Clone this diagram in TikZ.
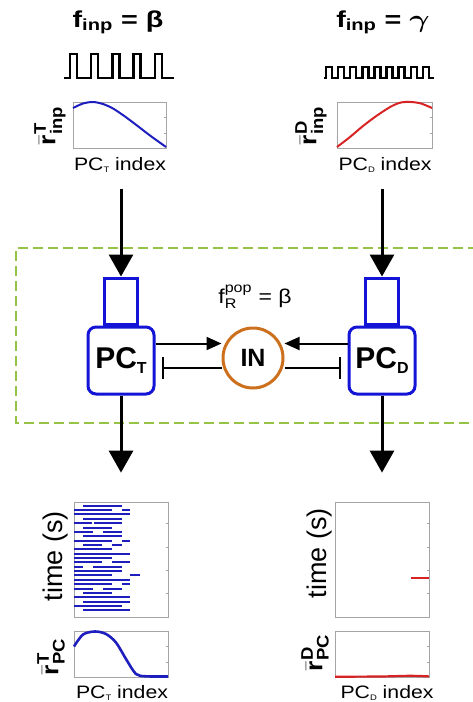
\documentclass[tikz,border=0pt]{standalone}
\usepackage{amsmath}
\usepackage{fontspec}
\setmainfont{Liberation Sans}
\usepackage{xcolor}
\usetikzlibrary{arrows.meta,positioning}
\definecolor{pcblue}{RGB}{20,20,215}
\definecolor{curveblue}{RGB}{30,30,190}
\definecolor{curvered}{RGB}{215,35,35}
\definecolor{inorange}{RGB}{204,112,30}
\definecolor{boxgreen}{RGB}{150,195,70}
\definecolor{axisgray}{RGB}{165,165,165}
\newcommand{\lowsub}[1]{\raisebox{-2.5pt}{\fontsize{8}{8}\selectfont #1}}
\newcommand{\pcsub}[1]{\raisebox{-5pt}{\fontsize{16}{16}\selectfont #1}}

\begin{document}
\begin{tikzpicture}[x=1pt,y=-1pt,
  title/.style={anchor=base,inner sep=0pt,xscale=1.25,transform shape,font=\fontsize{23}{26}\selectfont\bfseries},
  idx/.style={anchor=base,inner sep=0pt,xscale=1.18,transform shape,font=\fontsize{18}{18}\selectfont},
  rlab/.style={inner sep=0pt,rotate=90,xscale=1.1,transform shape,font=\fontsize{24}{24}\selectfont},
  timelab/.style={inner sep=0pt,rotate=90,font=\fontsize{27}{27}\selectfont},
  plotbox/.style={draw=axisgray,line width=0.8pt,inner sep=0pt},
  tick/.style={draw=axisgray,line width=0.6pt},
  wave/.style={line width=2.4pt,line join=miter},
  pcbox/.style={draw=pcblue,line width=3pt,rounded corners=8pt,minimum width=66pt,minimum height=67pt,inner sep=0pt,font=\fontsize{30}{30}\selectfont\bfseries},
  dend/.style={draw=pcblue,line width=3pt,minimum width=33pt,minimum height=46pt,inner sep=0pt},
  incell/.style={circle,draw=inorange,line width=3pt,minimum size=60pt,inner sep=0pt,font=\fontsize{25}{25}\selectfont\bfseries},
  feed/.style={line width=3pt,-{Triangle[width=24pt,length=22pt]}},
  exc/.style={line width=2pt,-{Triangle[width=13pt,length=15pt]}},
  inh/.style={line width=2pt,-{Bar[width=22pt]}},
  spike/.style={line width=2pt,curveblue}]
  \useasboundingbox (0,0) rectangle (472,702);

  % input frequencies
  \node[title] (ttlT) at (118,27) {f$_{\textbf{inp}}$ = β};
  \node[title] (ttlD) at (383,27) {f$_{\textbf{inp}}$ = $\boldsymbol{\gamma}$};
  \draw[wave] (64,78) \foreach \i in {0,...,4} { -- ({70+21.2*\i},78) -- ++(0,-24) -- ++(7,0) -- ++(0,24) } -- (174,78);
  \draw[wave] (324,78) \foreach \i in {0,...,8} { -- ({326+12.1*\i},78) -- ++(0,-11) -- ++(6,0) -- ++(0,11) } -- (434,78);

  % input profiles
  \node[plotbox,minimum width=93pt,minimum height=46pt] (rinT) at (119.5,125) {};
  \node[plotbox,minimum width=95pt,minimum height=46pt] (rinD) at (384.5,125) {};
  \foreach \ty in {117,133} {
    \draw[tick] (164,\ty) -- (166,\ty);
    \draw[tick] (430,\ty) -- (432,\ty);
  }
  \draw[line width=2pt,curveblue] plot[smooth] coordinates {(73,108) (83,103.5) (93,102) (103,104) (113,108.5) (125,116.5) (137,125.5) (150,135.5) (166,147)};
  \draw[line width=2pt,curvered] plot[smooth] coordinates {(337,147) (350,137) (363,126) (377,115.5) (391,106.5) (401,102.5) (411,102) (421,103.5) (432,108)};
  \node[rlab] (labinT) at (50,126) {$\bar{\textbf{r}}^{\textbf{T}}_{\textbf{inp}}$};
  \node[rlab] (labinD) at (311,126) {$\bar{\textbf{r}}^{\textbf{D}}_{\textbf{inp}}$};
  \node[idx] (idxinT) at (120,170) {PC\lowsub{T} index};
  \node[idx] (idxinD) at (385,170) {PC\lowsub{D} index};
  \coordinate (srcT) at (121,189);
  \coordinate (srcD) at (382,189);

  % network
  \draw[boxgreen,line width=2.2pt,dash pattern=on 10pt off 5pt] (478,248) -- (16,248) -- (16,423) -- (478,423);
  \node[pcbox] (pcT) at (121,360.5) {PC\pcsub{T}};
  \node[pcbox] (pcD) at (382,360.5) {PC\pcsub{D}};
  \node[dend,above=0pt of pcT] (dendT) {};
  \node[dend,above=0pt of pcD] (dendD) {};
  \node[incell] (in) at (253,358) {IN};
  \node[anchor=base,inner sep=0pt,xscale=1.15,transform shape,font=\fontsize{20}{20}\selectfont] (frpop) at (255,303) {f$^{\text{pop}}_{\text{R}}$ = β};
  \draw[feed] (srcT) -- (dendT.north);
  \draw[feed] (srcD) -- (dendD.north);
  \draw[exc] ([yshift=17pt]pcT.east) -- ([yshift=17pt]pcT.east -| in.west);
  \draw[exc] ([yshift=17pt]pcD.west) -- ([yshift=17pt]pcD.west -| in.east);
  \draw[inh,shorten >=6.5pt] ([yshift=-10pt]in.west) -- ([yshift=-10pt]in.west -| pcT.east);
  \draw[inh,shorten >=6.5pt] ([yshift=-10pt]in.east) -- ([yshift=-10pt]in.east -| pcD.west);

  % output rasters
  \node[plotbox,minimum width=94pt,minimum height=115pt] (rastT) at (121,559.5) {};
  \node[plotbox,minimum width=94pt,minimum height=115pt] (rastD) at (382,559.5) {};
  \draw[feed,shorten >=29pt] (pcT.south) -- (rastT.north);
  \draw[feed,shorten >=29pt] (pcD.south) -- (rastD.north);
  \foreach \ty in {523,547,570,593} {
    \draw[tick] (166,\ty) -- (168,\ty);
    \draw[tick] (427,\ty) -- (429,\ty);
  }
  \foreach \k/\segs in {0/{83/122},1/{74/112,122/130},2/{74/130},3/{83/122},4/{74/92,94/122},
    5/{83/112},6/{74/93,103/122},7/{83/122},8/{74/112,122/130},9/{83/102,112/122},
    10/{74/112},11/{74/130},12/{74/112},13/{74/102,112/130},14/{74/83,93/122},
    15/{74/122},16/{74/112,130/140},17/{74/130},18/{74/112,122/130},19/{74/93,103/122},
    20/{83/112},21/{74/130},22/{83/130},23/{74/122},24/{83/130}}
    \foreach \a/\b in \segs
      \draw[spike] ({\a},{505.7+4.36*\k}) -- ({\b},{505.7+4.36*\k});
  \draw[spike,curvered] (411,578) -- (429,578);
  \node[timelab] (timeT) at (56,556) {time (s)};
  \node[timelab] (timeD) at (320,553) {time (s)};

  % output profiles
  \node[plotbox,minimum width=94pt,minimum height=46pt] (rpcT) at (121,654) {};
  \node[plotbox,minimum width=94pt,minimum height=46pt] (rpcD) at (382,654) {};
  \foreach \ty in {646,662} {
    \draw[tick] (166,\ty) -- (168,\ty);
    \draw[tick] (427,\ty) -- (429,\ty);
  }
  \draw[line width=2.6pt,curveblue] plot[smooth] coordinates {(74,646.5) (83,634.5) (95,631.5) (106,634) (116,642.5) (126,659) (136,674) (146,676.3) (168,676.5)};
  \draw[line width=2.2pt,curvered] plot[smooth] coordinates {(335,676.7) (380,676.5) (410,675.8) (429,676.4)};
  \node[rlab] (labpcT) at (51,657) {$\bar{\textbf{r}}^{\textbf{T}}_{\textbf{PC}}$};
  \node[rlab] (labpcD) at (315,653) {$\bar{\textbf{r}}^{\textbf{D}}_{\textbf{PC}}$};
  \node[idx] (idxpcT) at (122,698) {PC\lowsub{T} index};
  \node[idx] (idxpcD) at (387,698) {PC\lowsub{D} index};
\end{tikzpicture}
\end{document}
